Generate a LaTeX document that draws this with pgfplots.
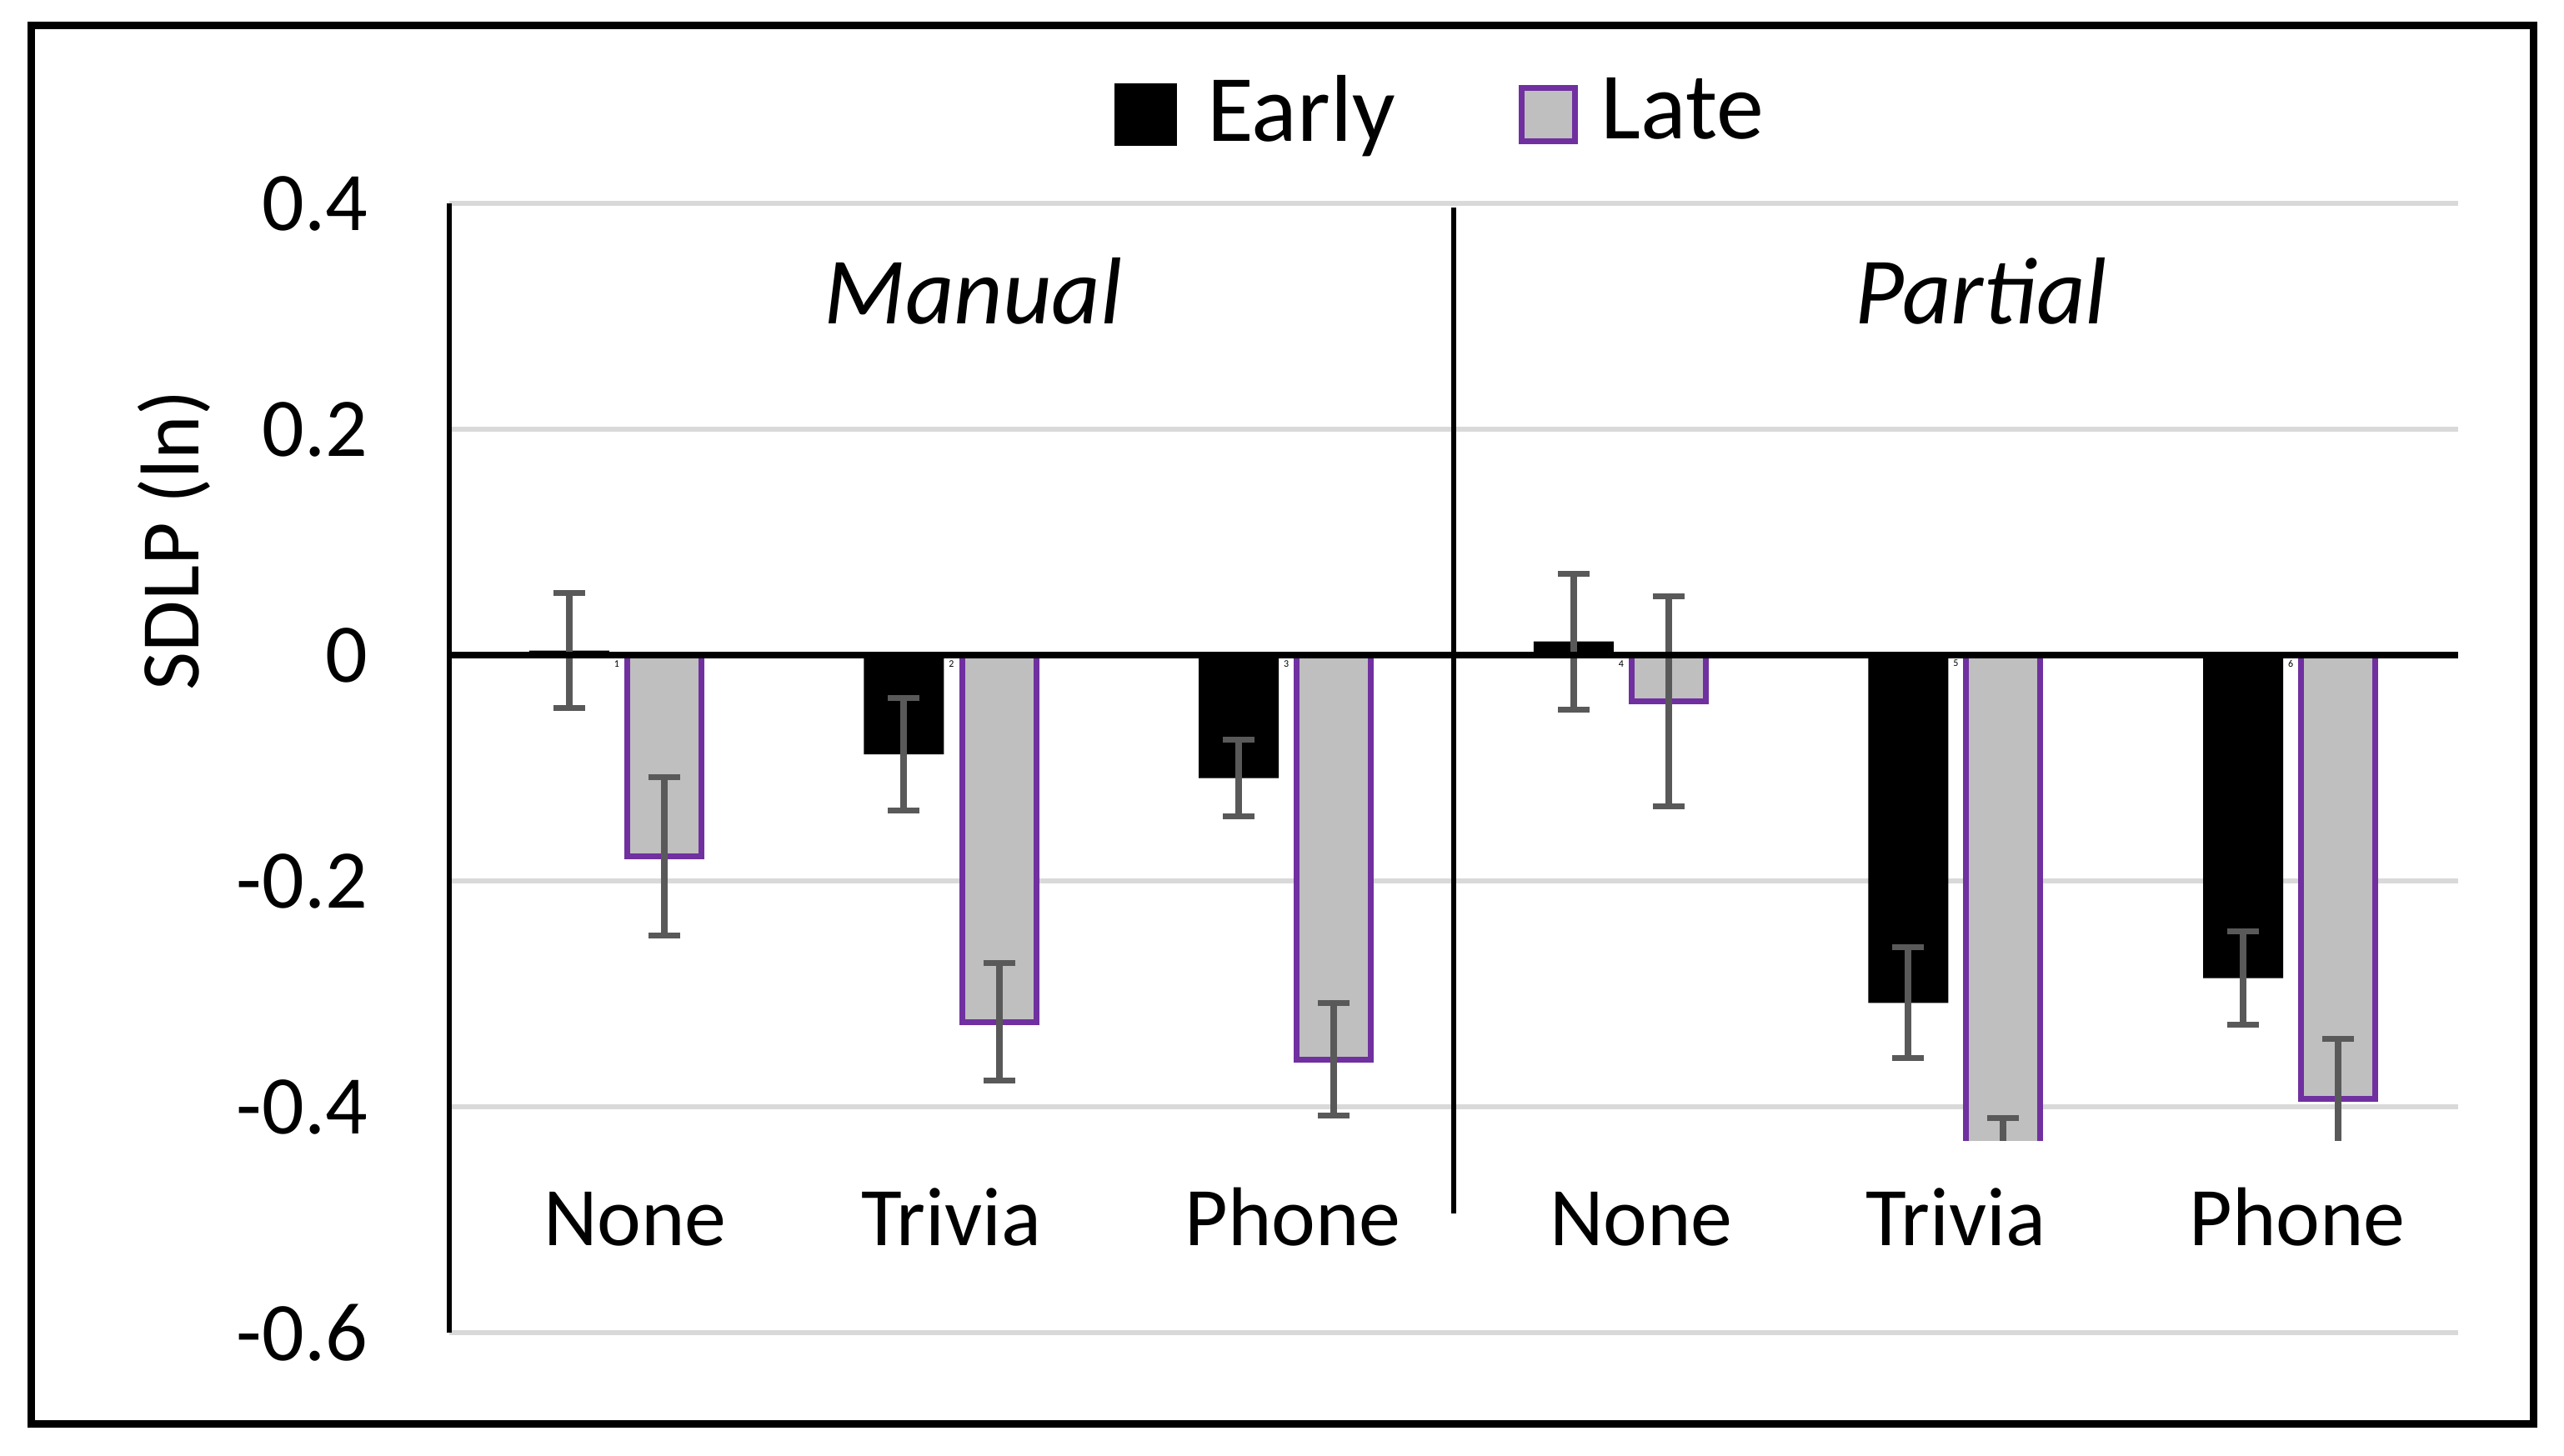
\documentclass[border=0pt]{standalone}
\usepackage{fontspec}
\setmainfont{Carlito}
\usepackage{pgfplots}
\usepackage{pgfplotstable}
\pgfplotsset{compat=1.18}

\definecolor{lategray}{HTML}{BFBFBF}
\definecolor{latepurple}{HTML}{7030A0}
\definecolor{errgray}{HTML}{595959}
\definecolor{gridgray}{HTML}{D9D9D9}

\pgfplotsset{
    earlyleg/.style={legend image code/.code={\draw[##1] (0pt,-3.55pt) rectangle (7.1pt,3.55pt);}},
    lateleg/.style={legend image code/.code={\draw[##1] (0.35pt,-3.2pt) rectangle (6.75pt,3.2pt);}},
    errs/.style={error bars/.cd, y dir=both, y explicit,
        error bar style={errgray, line width=0.8pt},
        error mark options={errgray, rotate=90, mark size=1.9pt, line width=0.7pt}},
}

% 0-2: Manual, 3-5: Partial
\pgfplotstableread{
x mean err
0 0.004 0.051
1 -0.088 0.050
2 -0.109 0.034
3 0.012 0.060
4 -0.308 0.049
5 -0.286 0.041
}\early
\pgfplotstableread{
x mean err
0 -0.178 0.070
1 -0.325 0.052
2 -0.358 0.050
3 -0.041 0.093
4 -0.460 0.050
5 -0.393 0.053
}\late

\begin{document}
\begin{tikzpicture}
\path[use as bounding box] (-53.9pt,-14.7pt) rectangle (253.7pt,159.9pt);
\draw[line width=0.9pt] (-50.1pt,-10.9pt) rectangle (250.0pt,156.9pt);

% background axis: grid, ticks, labels
\begin{axis}[
    at={(0pt,0pt)}, anchor=south west,
    scale only axis, width=241pt, height=135.5pt,
    xmin=-0.5, xmax=5.5, ymin=-0.6, ymax=0.4,
    axis x line*=bottom, axis y line*=left,
    x axis line style={draw=none},
    y axis line style={line width=0.6pt, -},
    tick style={draw=none},
    ytick={-0.6,-0.4,-0.2,0,0.2,0.4},
    yticklabels={-0.6,-0.4,-0.2,0,0.2,0.4},
    xtick={0.055,1,2.02,3.06,4,5.02},
    xticklabels={None,Trivia,Phone,None,Trivia,Phone},
    ymajorgrids, grid style={gridgray, line width=0.65pt},
    yticklabel style={anchor=east, inner sep=0pt, xshift=-9.6pt, font=\fontsize{10}{12}\selectfont},
    xticklabel style={anchor=base, inner sep=0pt, yshift=10.5pt, font=\fontsize{10}{12}\selectfont},
    ylabel={SDLP (ln)},
    ylabel style={at={(axis description cs:-0.1249,0.7018)}, anchor=base, inner sep=0pt, font=\fontsize{10}{12}\selectfont},
    clip=false,
]
\draw[line width=0.6pt] (axis cs:2.5,0.396) -- (axis cs:2.5,-0.4945);
\node[anchor=base, inner sep=0pt, font=\itshape\fontsize{11.4}{13}\selectfont] at (axis cs:1.065,0.2937) {Manual};
\node[anchor=base, inner sep=0pt, font=\itshape\fontsize{11.4}{13}\selectfont] at (axis cs:4.075,0.2937) {Partial};
\end{axis}

% bars, clipped at -0.43
\begin{axis}[
    at={(0pt,135.5pt)}, anchor=north west,
    scale only axis, width=241pt, height=112.465pt,
    xmin=-0.5, xmax=5.5, ymin=-0.43, ymax=0.4,
    hide axis,
    ybar, bar width=9.6pt,
    legend style={draw=none, fill=none, at={(0.3303,1.0951)}, anchor=base west,
        legend columns=2, inner sep=0pt, nodes={inner sep=0pt},
        font=\fontsize{11.4}{13}\selectfont,
        /tikz/every odd column/.append style={column sep=3.6pt},
        /tikz/every even column/.append style={column sep=14.8pt}},
]
\addplot[fill=black, draw=none, bar shift=-5.7pt, earlyleg, errs]
    table[x=x, y=mean, y error=err] {\early};
\addlegendentry{Early}
\addplot[fill=lategray, draw=latepurple, line width=0.7pt, bar width=8.9pt, bar shift=5.7pt, lateleg, errs]
    table[x=x, y=mean, y error=err] {\late};
\addlegendentry{\hspace{-0.8pt}Late}
\draw[line width=0.8pt] (axis cs:-0.5,0) -- (axis cs:5.5,0);
% tiny point labels next to the late bars
\pgfplotsinvokeforeach{0,...,5}{
    \node[inner sep=0pt, font=\fontsize{1.2}{1.4}\selectfont] at (axis cs:#1,-0.0075) {\the\numexpr#1+1\relax};
}
\end{axis}
\end{tikzpicture}
\end{document}
